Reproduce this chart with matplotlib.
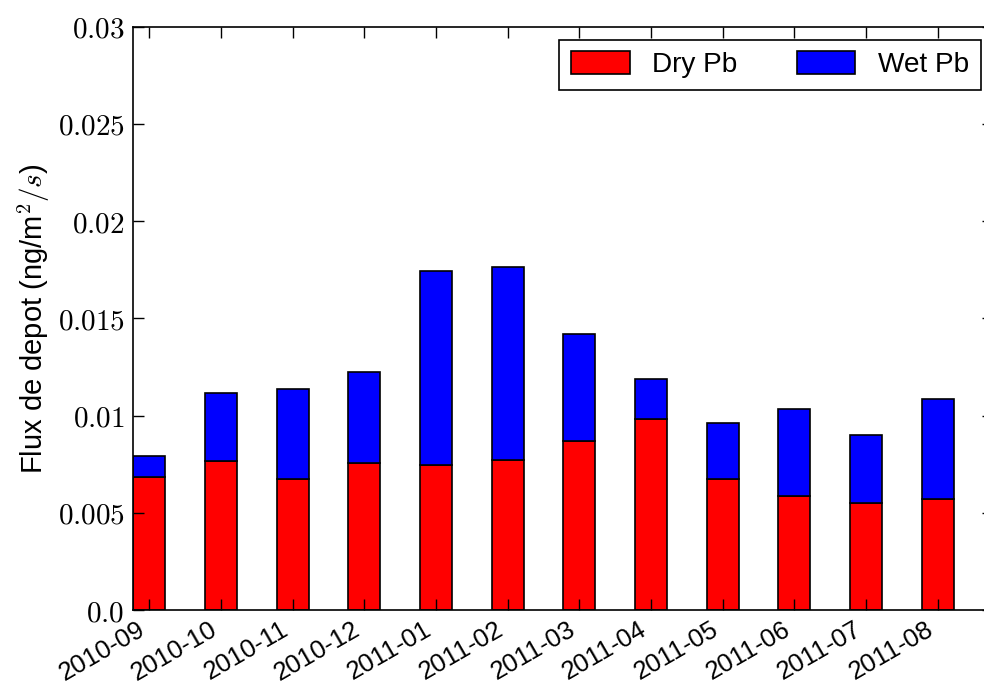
import matplotlib
matplotlib.use('Agg')
import matplotlib.pyplot as plt
import numpy as np

months = ['2010-09', '2010-10', '2010-11', '2010-12', '2011-01', '2011-02',
          '2011-03', '2011-04', '2011-05', '2011-06', '2011-07', '2011-08']
dry_pb = [0.00682, 0.00767, 0.00675, 0.00759, 0.00747, 0.00774,
          0.00868, 0.00981, 0.00675, 0.00589, 0.00553, 0.00569]
total_pb = [0.00791, 0.01115, 0.01136, 0.01223, 0.01742, 0.01764,
            0.01418, 0.01187, 0.00962, 0.01033, 0.00899, 0.01084]
wet_pb = [t - d for t, d in zip(total_pb, dry_pb)]
yticks = [0.0, 0.005, 0.01, 0.015, 0.02, 0.025, 0.03]
ytick_labels = ['0.0', '0.005', '0.01', '0.015', '0.02', '0.025', '0.03']

plt.rcParams['mathtext.fontset'] = 'cm'
plt.rcParams['font.family'] = ['Liberation Sans', 'DejaVu Sans']

fig = plt.figure(figsize=(9.84, 6.84), dpi=100)
# right spine sits just outside the picture, as in the reference
ax = fig.add_axes([0.135, 0.108, 0.874, 0.853])

x = np.arange(len(months))
ax.bar(x, dry_pb, width=0.45, color='red', edgecolor='black', linewidth=1.2, label='Dry Pb')
ax.bar(x, wet_pb, width=0.45, bottom=dry_pb, color='blue', edgecolor='black', linewidth=1.2, label='Wet Pb')

ax.set_xlim(-0.23, 11.77)
ax.set_ylim(0, 0.03)
ax.set_xticks(x)
ax.set_xticklabels(months, rotation=30, ha='right', fontsize=18.5)
ax.set_yticks(yticks)
ax.set_yticklabels([r'$\mathbf{' + s + '}$' for s in ytick_labels], fontsize=21)
ax.tick_params(direction='in', length=8, top=True, right=True, width=1)
ax.tick_params(axis='x', pad=5)
ax.tick_params(axis='y', pad=6)
for sp in ax.spines.values():
    sp.set_linewidth(1.2)
    sp.set_color('black')

ax.set_ylabel(r'Flux de depot (ng/m$^2/s$)', fontsize=21)

leg = ax.legend(loc='upper right', bbox_to_anchor=(0.986, 0.978), borderaxespad=0,
                ncol=2, fontsize=20.2, handlelength=2.1, handleheight=0.85,
                handletextpad=0.8, columnspacing=2.1, fancybox=False,
                framealpha=1, edgecolor='black', borderpad=0.42)
leg.get_frame().set_linewidth(1.2)

fig.savefig('out.png', dpi=100)
